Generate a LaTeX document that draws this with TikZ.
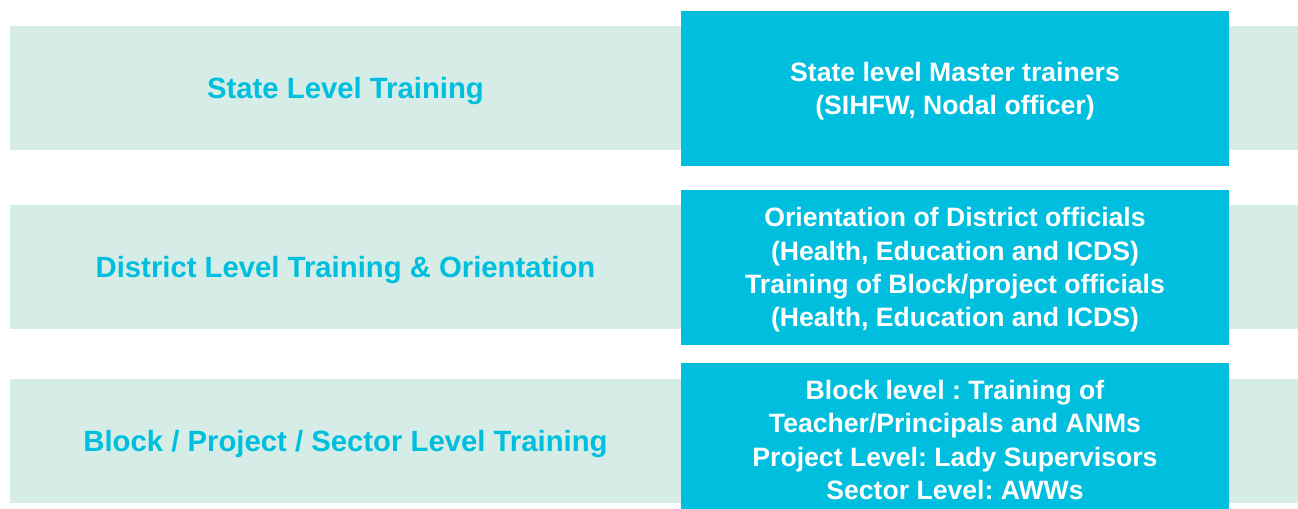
\documentclass[tikz,border=0pt]{standalone}
\usepackage{fontspec}
\setmainfont{Liberation Sans}
\usepackage{tikz}
\usetikzlibrary{calc}
\definecolor{bandgreen}{RGB}{214,236,230}
\definecolor{boxcyan}{RGB}{0,191,222}
\frenchspacing

\begin{document}
\begin{tikzpicture}[x=1bp, y=-1bp,
    band/.style={rectangle, fill=bandgreen, inner sep=0pt, minimum width=1288bp, minimum height=124bp},
    level/.style={text=boxcyan, font=\fontsize{29.4}{33.5}\selectfont\bfseries},
    trainbox/.style={rectangle, fill=boxcyan, inner sep=0pt, minimum width=548bp, minimum height=155bp},
    boxtext/.style={text=white, align=center, font=\fontsize{26.7}{33.5}\selectfont\bfseries}]
            \useasboundingbox (0,0) rectangle (1298,509);
            \foreach \i/\y in {1/88,2/267,3/441} {
                \node[band] (B\i) at (654,\y) {};
            }
            \node[level] (L1) at (345.5,91) {State Level Training};
            \node[level] (L2) at (345.5,270) {District Level Training \& Orientation};
            \node[level] (L3) at (345.5,444) {Block / Project / Sector Level Training};

            \foreach \i/\y in {1/88.5,2/267.5,3/440.5} {
                \node[trainbox] (T\i) at (955,\y) {};
            }
            \node[boxtext] (X1) at (955,91) {State level Master trainers\\(SIHFW, Nodal officer)};
            \node[boxtext] (X2) at (955,270) {Orientation of District officials\\(Health, Education and ICDS)\\Training of Block/project officials\\(Health, Education and ICDS)};
            \node[boxtext] (X3) at (955,440) {Block level : Training of\\Teacher/Principals and ANMs\\Project Level: Lady Supervisors\\Sector Level: AWWs};

        \end{tikzpicture}
\end{document}
